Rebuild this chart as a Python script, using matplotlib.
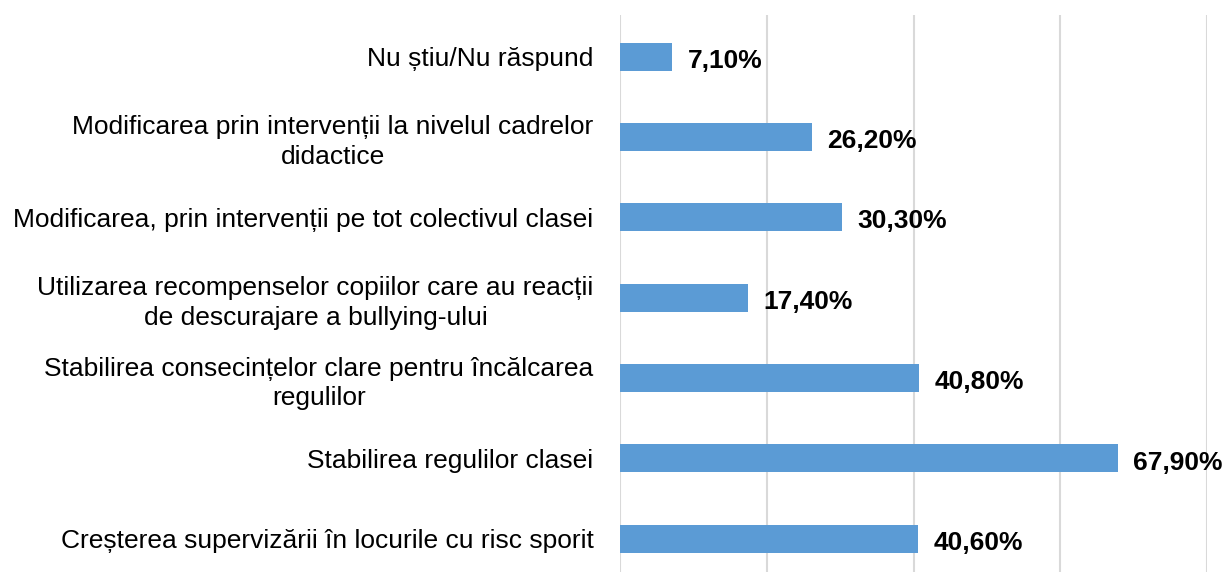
import matplotlib
matplotlib.use('Agg')
import matplotlib.pyplot as plt

categorii = [
    'Creșterea supervizării în locurile cu risc sporit',
    'Stabilirea regulilor clasei',
    'Stabilirea consecințelor clare pentru încălcarea\nregulilor',
    'Utilizarea recompenselor copiilor care au reacții\nde descurajare a bullying-ului',
    'Modificarea, prin intervenții pe tot colectivul clasei',
    'Modificarea prin intervenții la nivelul cadrelor\ndidactice',
    'Nu știu/Nu răspund',
]
valori = [40.6, 67.9, 40.8, 17.4, 30.3, 26.2, 7.1]
etichete = ['40,60%', '67,90%', '40,80%', '17,40%', '30,30%', '26,20%', '7,10%']

plt.rcParams['font.family'] = ['Liberation Sans', 'DejaVu Sans']

fig = plt.figure(figsize=(12.27, 5.72), dpi=100)
ax = fig.add_axes([0.5053, -0.012, 0.4784, 0.986])

y = list(range(len(categorii)))
bare = ax.barh(y, valori, height=0.35, color='#5b9bd5', zorder=3)

for b, t in zip(bare, etichete):
    ax.annotate(t, (b.get_width(), b.get_y() + b.get_height() / 2),
                xytext=(11, -3), textcoords='offset points',
                ha='left', va='center', fontsize=19, fontweight='bold')

ax.set_xlim(0, 80)
ax.set_ylim(-0.5, 6.52)
ax.set_xticks([0, 20, 40, 60, 80])
ax.set_xticklabels([])
ax.xaxis.grid(True, color='#d9d9d9', linewidth=1.5, zorder=0)
ax.set_yticks(y)
ax.set_yticklabels(categorii, fontsize=19)
for lbl in ax.get_yticklabels():
    lbl.set_multialignment('center')
    lbl.set_linespacing(1.3)
ax.tick_params(axis='both', length=0)
ax.tick_params(axis='y', pad=19)
for s in ax.spines.values():
    s.set_visible(False)

fig.savefig('out.png', dpi=100)
